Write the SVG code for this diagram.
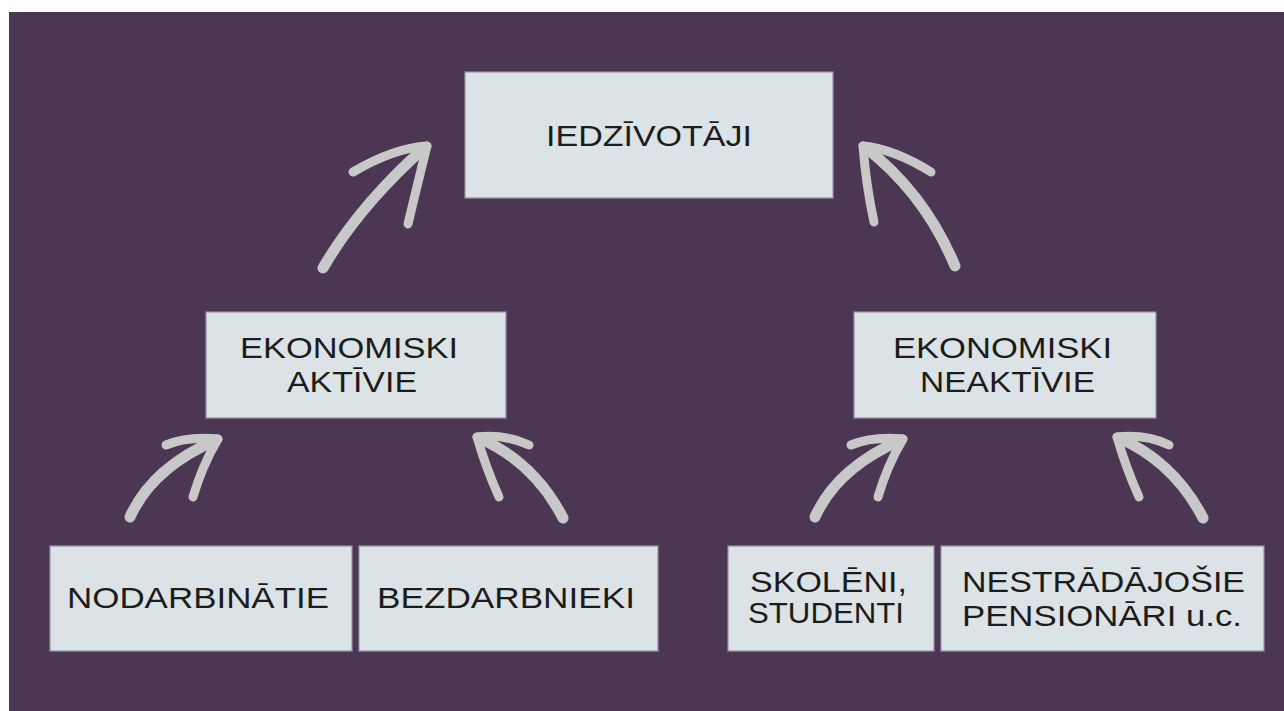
<svg xmlns="http://www.w3.org/2000/svg" width="1284" height="711" viewBox="0 0 1284 711">
<defs>
<style>
.box{fill:#dce3e6;stroke:#9a93a6;stroke-width:1.2}
.t{font-family:"Liberation Sans","Open Sans",sans-serif;font-size:30px;fill:#1c1c1c}
.shaft{fill:none;stroke:#c8c8c8;stroke-width:11;stroke-linecap:round;stroke-linejoin:round}
.wing{fill:none;stroke:#c8c8c8;stroke-width:9;stroke-linecap:round;stroke-linejoin:round}
</style>
<g id="arrowUR">
<path class="shaft" d="M130,517 Q152,468 216,440"/>
<path class="wing" d="M218,439 Q188,436 166,445"/>
<path class="wing" d="M218,439 Q202,466 193,497"/>
</g>
<g id="arrowUL">
<path class="shaft" d="M563,518 Q534,462 479,438"/>
<path class="wing" d="M477,437 Q506,434 529,445"/>
<path class="wing" d="M477,437 Q486,468 499,497"/>
</g>
</defs>
<rect x="0" y="0" width="1284" height="711" fill="#ffffff"/>
<rect x="9" y="12" width="1275" height="699" fill="#4b3653"/>

<g id="connectors">
<g id="arrow-aktivie-iedz">
<path class="shaft" d="M323,268 Q359,206 424,148"/>
<path class="wing" d="M427,146 Q394,148 353,172" stroke-width="10"/>
<path class="wing" d="M427,146 Q418,182 408,224" stroke-width="10"/>
</g>
<g id="arrow-neaktivie-iedz">
<path class="shaft" d="M955,266 Q925,194 866,148"/>
<path class="wing" d="M863,146 Q894,149 931,172" stroke-width="10"/>
<path class="wing" d="M863,146 Q866,185 874,222" stroke-width="10"/>
</g>
<use href="#arrowUR"/>
<use href="#arrowUL"/>
<use href="#arrowUR" transform="translate(685,0)"/>
<use href="#arrowUL" transform="translate(640,0)"/>
</g>

<g id="node-iedzivotaji">
<rect class="box" x="465" y="72" width="368" height="126"/>
<text class="t" x="546" y="146" textLength="206" lengthAdjust="spacingAndGlyphs">IEDZĪVOTĀJI</text>
</g>
<g id="node-aktivie">
<rect class="box" x="206" y="312" width="300" height="106"/>
<text class="t" x="240" y="358" textLength="218" lengthAdjust="spacingAndGlyphs">EKONOMISKI</text>
<text class="t" x="287" y="392" textLength="130" lengthAdjust="spacingAndGlyphs">AKTĪVIE</text>
</g>
<g id="node-neaktivie">
<rect class="box" x="854" y="312" width="302" height="106"/>
<text class="t" x="893" y="358" textLength="219" lengthAdjust="spacingAndGlyphs">EKONOMISKI</text>
<text class="t" x="920" y="392" textLength="175" lengthAdjust="spacingAndGlyphs">NEAKTĪVIE</text>
</g>
<g id="node-nodarbinatie">
<rect class="box" x="50" y="546" width="302" height="105"/>
<text class="t" x="67" y="608" textLength="262" lengthAdjust="spacingAndGlyphs">NODARBINĀTIE</text>
</g>
<g id="node-bezdarbnieki">
<rect class="box" x="359" y="546" width="299" height="105"/>
<text class="t" x="377" y="608" textLength="258" lengthAdjust="spacingAndGlyphs">BEZDARBNIEKI</text>
</g>
<g id="node-skoleni">
<rect class="box" x="728" y="546" width="206" height="105"/>
<text class="t" x="750" y="592" textLength="157" lengthAdjust="spacingAndGlyphs">SKOLĒNI,</text>
<text class="t" x="748" y="623" textLength="156" lengthAdjust="spacingAndGlyphs">STUDENTI</text>
</g>
<g id="node-nestradajosie">
<rect class="box" x="941" y="546" width="323" height="105"/>
<text class="t" x="962" y="592" textLength="283" lengthAdjust="spacingAndGlyphs">NESTRĀDĀJOŠIE</text>
<text class="t" x="962" y="626" textLength="280" lengthAdjust="spacingAndGlyphs">PENSIONĀRI u.c.</text>
</g>
</svg>
